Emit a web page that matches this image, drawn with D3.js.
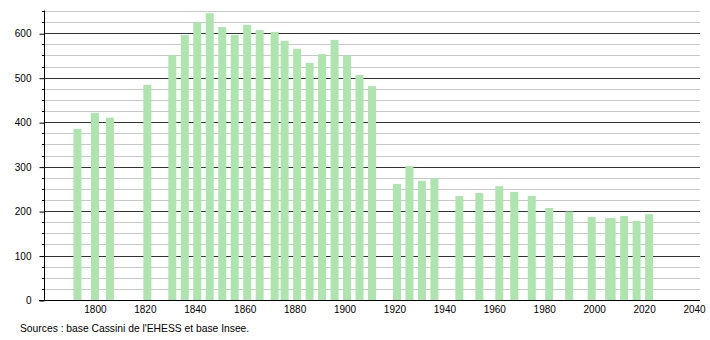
<!DOCTYPE html>
<html>
<head>
<meta charset="utf-8">
<script src="https://cdn.jsdelivr.net/npm/d3@7"></script>
<style>
  body { margin: 0; background: #fff; }
  svg { display: block; font-family: "Liberation Sans", Arial, sans-serif; }
</style>
</head>
<body>
<svg id="chart" width="710" height="340"></svg>
<script>
const years = [1793, 1800, 1806, 1821, 1831, 1836, 1841, 1846, 1851, 1856,
  1861, 1866, 1872, 1876, 1881, 1886, 1891, 1896, 1901, 1906, 1911,
  1921, 1926, 1931, 1936, 1946, 1954, 1962, 1968, 1975, 1982, 1990,
  1999, 2006, 2007, 2012, 2017, 2022];
const population = [385, 421, 410, 484, 550, 596, 624, 645, 614, 596,
  619, 607, 603, 583, 565, 533, 553, 585, 550, 506, 481,
  261, 301, 268, 274, 234, 241, 256, 243, 234, 207, 199,
  187, 184, 184, 189, 178, 193];
const xTicks = [1800, 1820, 1840, 1860, 1880, 1900, 1920, 1940, 1960, 1980, 2000, 2020, 2040];
const yTicks = [0, 100, 200, 300, 400, 500, 600];
const source = "Sources : base Cassini de l'EHESS et base Insee.";

const padLeft = 44, padRight = 700, padTop = 11, padBottom = 300;

const xScale = d3.scaleLinear().domain([1779.6, 2042.4]).range([padLeft, padRight]);
const yScale = d3.scaleLinear().domain([0, 650]).range([padBottom, padTop]);

const svg = d3.select('#chart');

// minor grid every 25, major every 100
const minor = d3.range(25, 651, 25).filter(v => v % 100 !== 0);
svg.append('g')
  .selectAll('line')
  .data(minor)
  .join('line')
  .attr('x1', padLeft).attr('x2', padRight)
  .attr('y1', d => Math.round(yScale(d)) + 0.5)
  .attr('y2', d => Math.round(yScale(d)) + 0.5)
  .attr('stroke', '#c8c8c8');

svg.append('g')
  .selectAll('line')
  .data(yTicks.filter(v => v > 0))
  .join('line')
  .attr('x1', padLeft).attr('x2', padRight)
  .attr('y1', d => Math.round(yScale(d)) + 0.5)
  .attr('y2', d => Math.round(yScale(d)) + 0.5)
  .attr('stroke', '#333');

// bars
const barW = 8;
svg.append('g')
  .selectAll('rect')
  .data(years.map((y, i) => ({year: y, value: population[i]})))
  .join('rect')
  .attr('x', d => xScale(d.year) - barW / 2)
  .attr('y', d => yScale(d.value))
  .attr('width', barW)
  .attr('height', d => yScale(0) - yScale(d.value))
  .attr('fill', '#aee4ae');

// y axis with major and minor ticks
const yAxis = d3.axisLeft(yScale).tickValues(yTicks).tickSize(5).tickPadding(8);
svg.append('g')
  .attr('transform', `translate(${padLeft + 0.5},0.5)`)
  .attr('id', 'yaxis')
  .call(yAxis)
  .call(g => g.select('.domain').attr('d', `M0,${yScale(650) - 1}V${yScale(0)}`).attr('stroke', '#000'))
  .call(g => g.selectAll('text').style('font-size', '10px').attr('fill', '#000'));

svg.append('g')
  .selectAll('line')
  .data(minor)
  .join('line')
  .attr('x1', padLeft - 2).attr('x2', padLeft)
  .attr('y1', d => Math.round(yScale(d)) + 0.5)
  .attr('y2', d => Math.round(yScale(d)) + 0.5)
  .attr('stroke', '#000');

// x axis, labels only
const xAxis = d3.axisBottom(xScale).tickValues(xTicks).tickFormat(d3.format('d')).tickSize(0).tickPadding(5);
svg.append('g')
  .attr('transform', `translate(0,${padBottom + 0.5})`)
  .attr('id', 'xaxis')
  .call(xAxis)
  .call(g => g.select('.domain').attr('d', `M${padLeft - 5},0H${padRight}`).attr('stroke', '#000'))
  .call(g => g.selectAll('text').style('font-size', '10px').attr('fill', '#000'));

svg.append('text')
  .attr('x', 20)
  .attr('y', 332)
  .style('font-size', '10.3px')
  .attr('fill', '#000')
  .text(source);
</script>
</body>
</html>
